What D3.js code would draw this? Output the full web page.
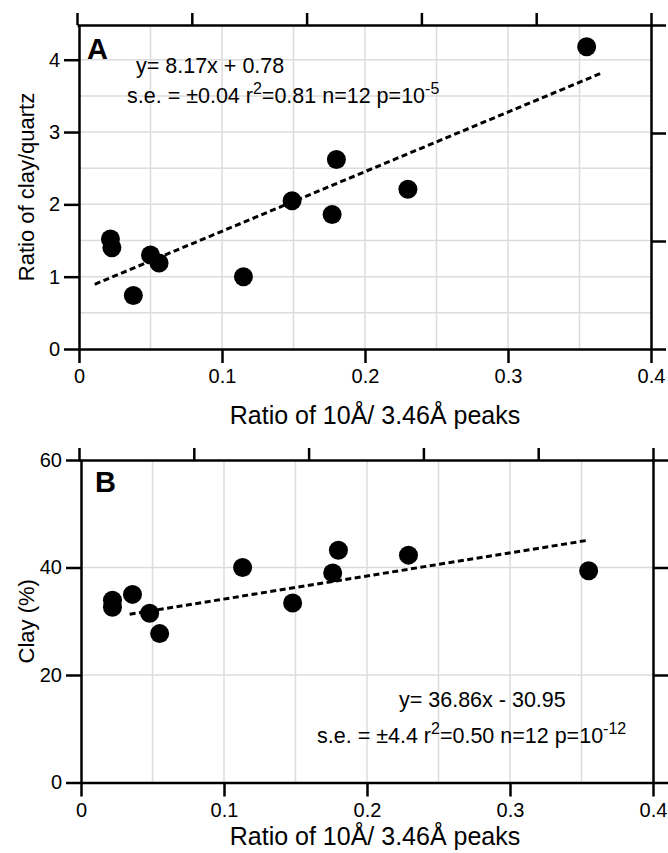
<!DOCTYPE html>
<html>
<head>
  <script src="https://d3js.org/d3.v7.min.js"></script>
  <style>
    body { margin: 0; background: #fff; }
    text { font-family: "Liberation Sans", Arial, sans-serif; fill: #000; }
    .frame path, .frame line { stroke: #000; stroke-width: 2.5px; }
    .grid line { stroke: #dcdcdc; stroke-width: 1.5px; }
    .tick text { font-size: 20px; }
    .title { font-size: 25px; }
    .ytitle { font-size: 22px; }
    .note { font-size: 21.5px; }
    .panel { font-size: 29px; font-weight: bold; }
  </style>
</head>
<body>
<svg width="668" height="853"></svg>
<script>
  // shared x axis
  const xTicks = [0, 0.1, 0.2, 0.3, 0.4];
  const xGrid = [0.05, 0.1, 0.15, 0.2, 0.25, 0.3, 0.35];
  const xTitle = "Ratio of 10Å/ 3.46Å peaks";

  // panel A: clay/quartz ratio
  const aX = [0.022, 0.023, 0.038, 0.050, 0.056, 0.115, 0.149, 0.177, 0.180, 0.230, 0.355];
  const aY = [1.52, 1.40, 0.74, 1.30, 1.19, 1.00, 2.05, 1.86, 2.62, 2.21, 4.18];
  const aFit = [[0.011, 0.895], [0.366, 3.82]];
  const aYTicks = [0, 1, 2, 3, 4];
  const aYGrid = [0.5, 1, 1.5, 2, 2.5, 3, 3.5, 4];
  const aYTitle = "Ratio of clay/quartz";

  // panel B: clay percent
  const bX = [0.022, 0.022, 0.036, 0.048, 0.055, 0.113, 0.148, 0.176, 0.180, 0.229, 0.355];
  const bY = [33.9, 32.6, 35.0, 31.5, 27.7, 40.0, 33.4, 39.0, 43.2, 42.3, 39.4];
  const bFit = [[0.034, 31.3], [0.353, 45.0]];
  const bYTicks = [0, 20, 40, 60];
  const bYGrid = [20, 40];
  const bYTitle = "Clay (%)";

  const svg = d3.select("svg");

  function panel(o) {
    const x = d3.scaleLinear().domain([0, 0.4]).range([o.left, o.right]);
    const y = d3.scaleLinear().domain(o.yDomain).range([o.bottom, o.top]);
    const g = svg.append("g");

    // grid
    const grid = g.append("g").attr("class", "grid");
    grid.selectAll(".gx").data(xGrid).join("line")
      .attr("x1", d => x(d)).attr("x2", d => x(d))
      .attr("y1", o.top).attr("y2", o.bottom);
    grid.selectAll(".gy").data(o.yGrid).join("line")
      .attr("y1", d => y(d)).attr("y2", d => y(d))
      .attr("x1", o.left).attr("x2", o.right);

    // mirror axes use their own spacing, like the original
    const xTop = d3.scaleLinear().domain([0, 5]).range([o.left - 2, o.right]);
    const yRight = d3.scaleLinear().domain([0, 3]).range([o.bottom, o.top]);

    g.append("g").attr("class", "frame")
      .attr("transform", `translate(0,${o.top})`)
      .call(d3.axisTop(xTop).tickValues([0, 1, 2, 3, 4, 5]).tickFormat("").tickSize(12).tickSizeOuter(0));
    g.append("g").attr("class", "frame")
      .attr("transform", `translate(${o.right},0)`)
      .call(d3.axisRight(yRight).tickValues([0, 1, 2, 3]).tickFormat("").tickSize(15).tickSizeOuter(0));
    g.append("g").attr("class", "frame")
      .attr("transform", `translate(0,${o.bottom})`)
      .call(d3.axisBottom(x).tickValues(xTicks).tickFormat(d3.format("")).tickSize(14).tickPadding(6).tickSizeOuter(0));
    g.append("g").attr("class", "frame")
      .attr("transform", `translate(${o.left},0)`)
      .call(d3.axisLeft(y).tickValues(o.yTicks).tickFormat(d3.format("")).tickSize(15).tickPadding(4).tickSizeOuter(0));

    // fit line
    g.append("path")
      .datum(o.fit)
      .attr("fill", "none")
      .attr("stroke", "#000")
      .attr("stroke-width", 3)
      .attr("stroke-dasharray", "6,3.5")
      .attr("d", d3.line().x(d => x(d[0])).y(d => y(d[1])));

    // points
    g.selectAll(".pt").data(o.xs).join("circle")
      .attr("cx", d => x(d))
      .attr("cy", (d, i) => y(o.ys[i]))
      .attr("r", 9.5)
      .attr("fill", "#000");

    // titles
    g.append("text").attr("class", "title")
      .attr("x", 375).attr("y", o.xTitleY)
      .attr("text-anchor", "middle")
      .text(xTitle);
    g.append("text").attr("class", "ytitle")
      .attr("transform", `translate(34,${(o.top + o.bottom) / 2}) rotate(-90)`)
      .attr("text-anchor", "middle")
      .text(o.yTitle);

    g.append("text").attr("class", "panel")
      .attr("x", o.letterX).attr("y", o.letterY)
      .text(o.letter);

    // regression notes
    g.append("text").attr("class", "note")
      .attr("x", o.eqX).attr("y", o.eqY)
      .text(o.eq);
    const s = g.append("text").attr("class", "note")
      .attr("x", o.seX).attr("y", o.seY);
    s.append("tspan").text(o.se[0]);
    s.append("tspan").attr("dy", -9).attr("font-size", 16).text("2");
    s.append("tspan").attr("dy", 9).text(o.se[1]);
    s.append("tspan").attr("dy", -9).attr("font-size", 16).text(o.se[2]);
  }

  panel({
    left: 79, right: 651, top: 25, bottom: 349, yDomain: [0, 4.48],
    yTicks: aYTicks, yGrid: aYGrid, xs: aX, ys: aY, fit: aFit,
    yTitle: aYTitle, xTitleY: 424, letter: "A", letterX: 87, letterY: 59,
    eq: "y= 8.17x + 0.78", eqX: 136, eqY: 73,
    se: ["s.e. = ±0.04 r", "=0.81 n=12 p=10", "-5"], seX: 127, seY: 103
  });

  panel({
    left: 81, right: 653, top: 460, bottom: 782.5, yDomain: [0, 60],
    yTicks: bYTicks, yGrid: bYGrid, xs: bX, ys: bY, fit: bFit,
    yTitle: bYTitle, xTitleY: 845, letter: "B", letterX: 95, letterY: 492,
    eq: "y= 36.86x - 30.95", eqX: 399, eqY: 707,
    se: ["s.e. = ±4.4 r", "=0.50 n=12 p=10", "-12"], seX: 317, seY: 743
  });
</script>
</body>
</html>
